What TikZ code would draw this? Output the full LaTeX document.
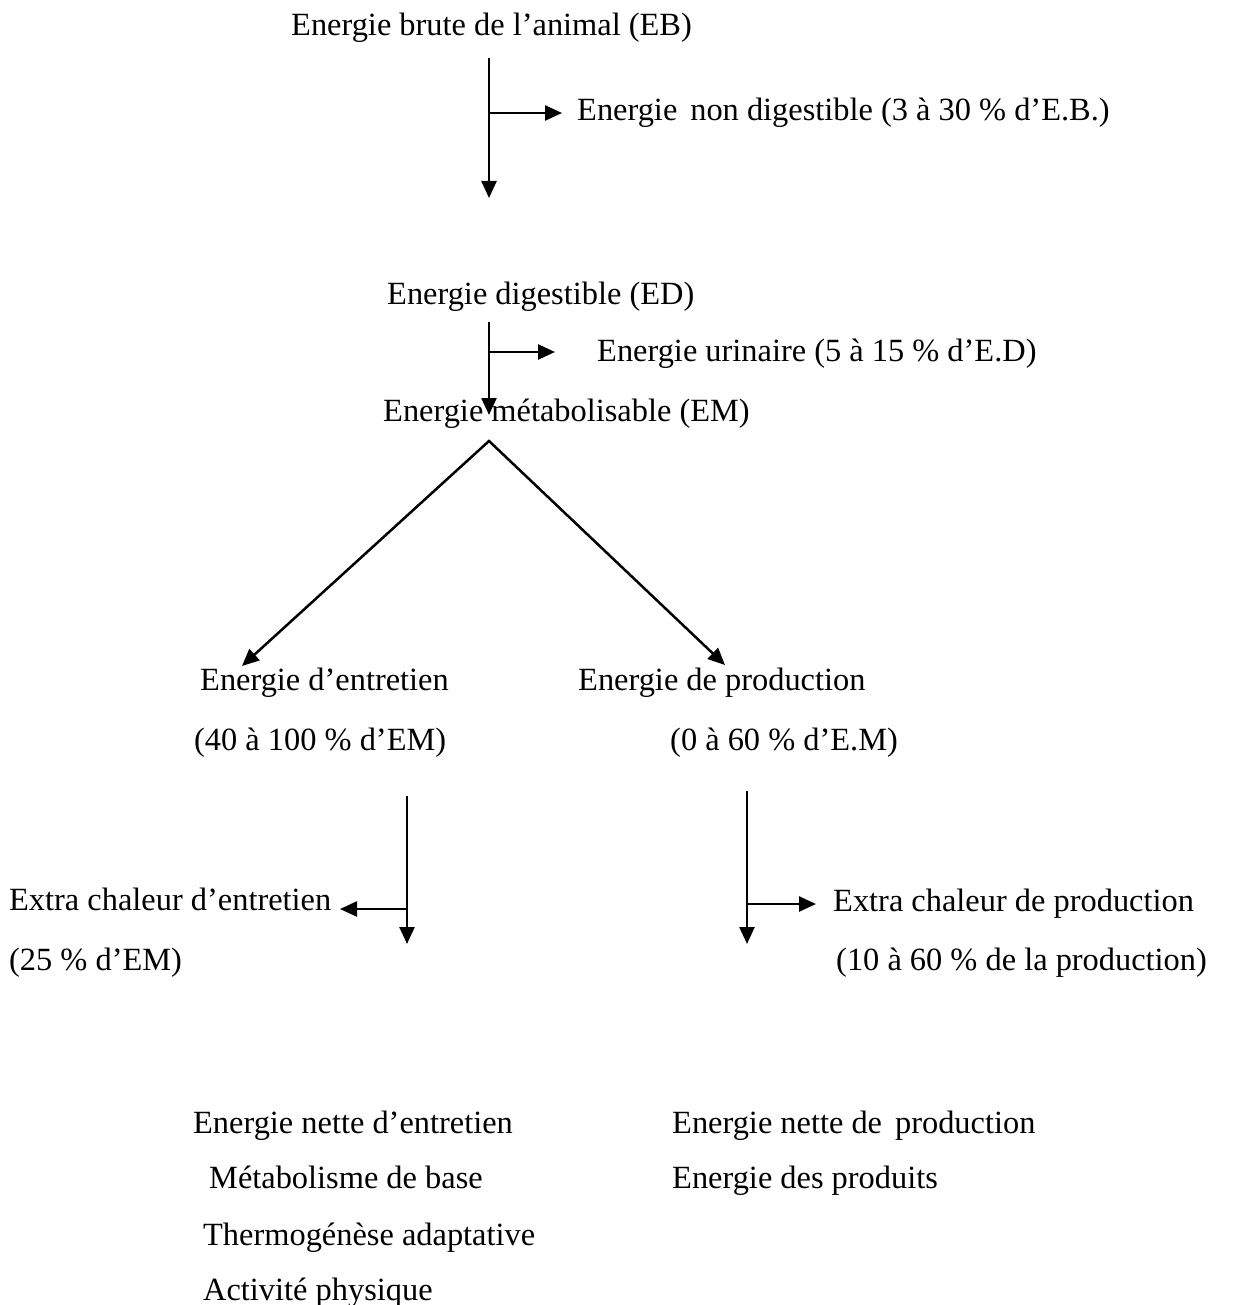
\documentclass[tikz,border=0pt]{standalone}
\usepackage{fontspec}
\setmainfont{Liberation Serif}
\usetikzlibrary{arrows.meta}
\begin{document}
\begin{tikzpicture}[x=1pt,y=-1pt,
  lbl/.style={anchor=base west,inner sep=0pt,font=\fontsize{32.4}{39}\selectfont},
  conn/.style={line width=2.5pt},
  tipk/.tip={Triangle[length=17pt,width=15pt]},
  arr/.style={conn,-tipk}]
\useasboundingbox (0,0) rectangle (1238,1305);
% texts
\node[lbl] (eb) at (291,36) {Energie brute de l’animal (EB)};
\node[lbl] (nd) at (577,121) {Energie\hspace{0.4em}non digestible (3 à 30 \% d’E.B.)};
\node[lbl] (ed) at (387,305) {Energie digestible (ED)};
\node[lbl] (ur) at (597,361) {Energie urinaire (5 à 15 \% d’E.D)};
\node[lbl] (em) at (383,421) {Energie métabolisable (EM)};
\node[lbl] (ent) at (200,690) {Energie d’entretien};
\node[lbl] (entp) at (194,750) {(40 à 100 \% d’EM)};
\node[lbl] (prod) at (578,690) {Energie de production};
\node[lbl] (prodp) at (670,750) {(0 à 60 \% d’E.M)};
\node[lbl] (xe) at (9,910) {Extra chaleur d’entretien};
\node[lbl] (xep) at (9,970) {(25 \% d’EM)};
\node[lbl] (xp) at (833,911) {Extra chaleur de production};
\node[lbl] (xpp) at (836,970) {(10 à 60 \% de la production)};
\node[lbl] (ne) at (193,1133) {Energie nette d’entretien};
\node[lbl] (mb) at (209,1188) {Métabolisme de base};
\node[lbl] (th) at (203,1245) {Thermogénèse adaptative};
\node[lbl] (ap) at (203,1300) {Activité physique};
\node[lbl] (np) at (672,1133) {Energie nette de\hspace{0.4em}production};
\node[lbl] (dp) at (672,1188) {Energie des produits};
% connector points
\coordinate (a1s) at (489,58);
\coordinate (a1e) at (489,198);
\coordinate (a1b) at (489,113);
\coordinate (a1t) at (562,113);
\coordinate (a2s) at (489,322);
\coordinate (a2e) at (489,415);
\coordinate (a2b) at (489,352);
\coordinate (a2t) at (555,352);
\coordinate (apex) at (489,441);
\coordinate (vl) at (242,666);
\coordinate (vr) at (725,665);
\coordinate (l3s) at (407,796);
\coordinate (l3e) at (407,944);
\coordinate (l3b) at (407,909);
\coordinate (l3t) at (340,909);
\coordinate (r3s) at (747,791);
\coordinate (r3e) at (747,944);
\coordinate (r3b) at (747,904);
\coordinate (r3t) at (816,904);
% connectors
\draw[arr] (a1s) -- (a1e);
\draw[arr] (a1b) -- (a1t);
\draw[arr] (a2s) -- (a2e);
\draw[arr] (a2b) -- (a2t);
\draw[conn,tipk-tipk] (vl) -- (apex) -- (vr);
\draw[arr] (l3s) -- (l3e);
\draw[arr] (l3b) -- (l3t);
\draw[arr] (r3s) -- (r3e);
\draw[arr] (r3b) -- (r3t);
\end{tikzpicture}
\end{document}
